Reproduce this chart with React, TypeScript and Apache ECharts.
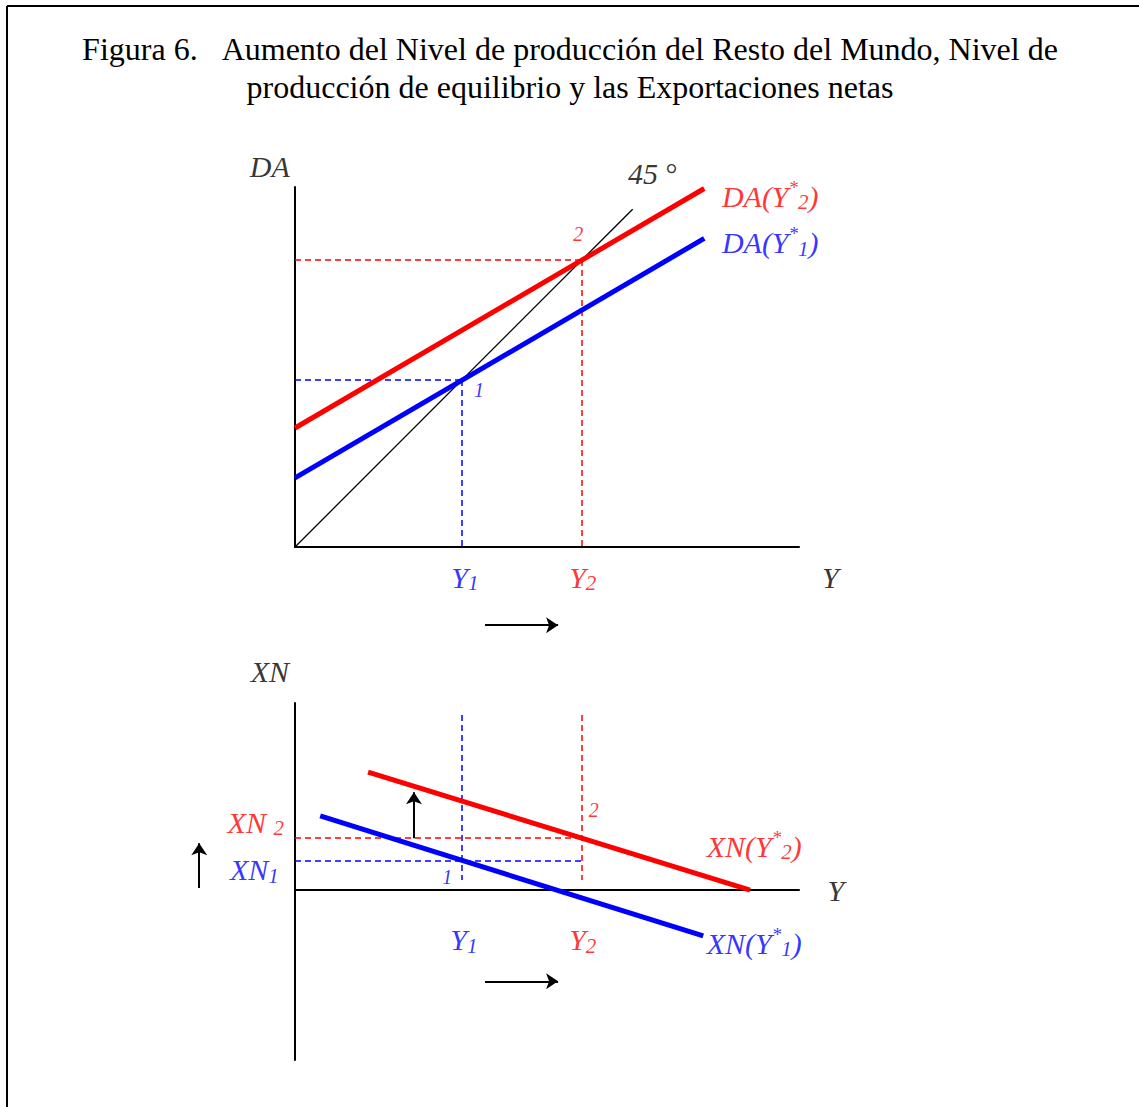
import React, { useEffect, useRef } from "react";
import * as echarts from "echarts";

type Pt = [number, number];

const SERIF = "'Liberation Serif', 'Times New Roman', serif";
const RED = "#ff0000";
const BLUE = "#0000ff";
const BLACK = "#000000";

const TITLE_LINES = [
  "Figura 6.\u00A0\u00A0\u00A0Aumento del Nivel de producción del Resto del Mundo, Nivel de",
  "producción de equilibrio y las Exportaciones netas",
];

// Upper panel: aggregate demand against output
const line45: Pt[] = [[0, 0], [67, 67]];
const da1: Pt[] = [[0, 13.7], [81.2, 61.2]];
const da2: Pt[] = [[0, 23.6], [81.2, 71.1]];
const yEquilibrium: number[] = [33.1, 56.9]; // Y1, Y2 (on the 45° line)

// Lower panel: net exports against output
const xn1: Pt[] = [[5.0, 14.7], [81.0, -9.1]];
const xn2: Pt[] = [[14.5, 23.4], [90.3, 0]];
const xnEquilibrium: number[] = [5.9, 10.3]; // XN1, XN2

// Axis extents
const topX: Pt = [0, 100];
const topY: Pt = [0, 71.4];
const botX: Pt = [0, 100];
const botY: Pt = [-33.7, 37.1];

const RICH: any = {
  sup: { fontSize: 19, padding: [0, 0, 18, 0] },
  sub: { fontSize: 21, padding: [12, 0, 0, 0] },
  sm: { fontSize: 20 },
  up: { fontStyle: "normal" },
};

type Lbl = { x: number; y: number; text: string; color: string; pos: "inside" | "right" | "left" };

const [Y1, Y2] = yEquilibrium;
const [XN1, XN2] = xnEquilibrium;

const topLabels: Lbl[] = [
  { x: -5.0, y: 75.4, text: "DA", color: BLACK, pos: "inside" },
  { x: 71.0, y: 74.0, text: "45\u00A0{up|°}", color: BLACK, pos: "inside" },
  { x: 84.7, y: 69.6, text: "DA(Y{sup|*}{sub|2})", color: RED, pos: "right" },
  { x: 84.7, y: 60.3, text: "DA(Y{sup|*}{sub|1})", color: BLUE, pos: "right" },
  { x: Y2 - 0.7, y: Y2 + 5.2, text: "{sm|2}", color: RED, pos: "inside" },
  { x: Y1 + 3.4, y: Y1 - 1.9, text: "{sm|1}", color: BLUE, pos: "inside" },
  { x: Y1 + 0.6, y: -6.0, text: "Y{sub|1}", color: BLUE, pos: "inside" },
  { x: Y2 + 0.2, y: -6.0, text: "Y{sub|2}", color: RED, pos: "inside" },
  { x: 106.2, y: -6.0, text: "Y", color: BLACK, pos: "inside" },
];

const botLabels: Lbl[] = [
  { x: -5.0, y: 43.3, text: "XN", color: BLACK, pos: "inside" },
  { x: -2.2, y: XN2 + 3.2, text: "XN\u00A0{sub|2}", color: RED, pos: "left" },
  { x: -3.2, y: XN1 - 1.9, text: "XN{sub|1}", color: BLUE, pos: "left" },
  { x: 81.7, y: 8.7, text: "XN(Y{sup|*}{sub|2})", color: RED, pos: "right" },
  { x: 81.7, y: -10.5, text: "XN(Y{sup|*}{sub|1})", color: BLUE, pos: "right" },
  { x: Y1 - 2.9, y: XN1 - 3.3, text: "{sm|1}", color: BLUE, pos: "inside" },
  { x: Y2 + 2.4, y: 15.9, text: "{sm|2}", color: RED, pos: "inside" },
  { x: Y1 + 0.4, y: -9.9, text: "Y{sub|1}", color: BLUE, pos: "inside" },
  { x: Y2 + 0.2, y: -9.9, text: "Y{sub|2}", color: RED, pos: "inside" },
  { x: 107.3, y: 0, text: "Y", color: BLACK, pos: "inside" },
];

const DASH = [6, 4];

function lineSeries(grid: number, data: Pt[], color: string, width: number): any {
  return {
    type: "line",
    xAxisIndex: grid,
    yAxisIndex: grid,
    data,
    symbol: "none",
    silent: true,
    clip: false,
    lineStyle: { color, width, cap: "butt" },
  };
}

function segments(grid: number, segs: Pt[][], color: string, width: number, dashed: boolean, arrow = false): any {
  return {
    type: "lines",
    coordinateSystem: "cartesian2d",
    xAxisIndex: grid,
    yAxisIndex: grid,
    silent: true,
    clip: false,
    symbol: arrow ? ["none", "arrow"] : ["none", "none"],
    symbolSize: arrow ? [9, 12] : 0,
    lineStyle: { color, width, type: dashed ? DASH : "solid", opacity: 1, curveness: 0 },
    data: segs.map((coords) => ({ coords })),
  };
}

function labelSeries(grid: number, labels: Lbl[]): any {
  return {
    type: "scatter",
    xAxisIndex: grid,
    yAxisIndex: grid,
    symbolSize: 0,
    silent: true,
    clip: false,
    z: 10,
    label: {
      show: true,
      fontFamily: SERIF,
      fontStyle: "italic",
      fontSize: 30,
      distance: 0,
      rich: RICH,
      formatter: (p: any) => p.data.text,
    },
    data: labels.map((l) => ({
      value: [l.x, l.y],
      text: l.text,
      label: { color: l.color, position: l.pos },
    })),
  };
}

function axisPair(grid: number, xr: Pt, yr: Pt) {
  const common = {
    type: "value",
    gridIndex: grid,
    axisTick: { show: false },
    axisLabel: { show: false },
    splitLine: { show: false },
    axisLine: { show: true, onZero: true, lineStyle: { color: BLACK, width: 2 } },
  };
  return {
    x: { ...common, min: xr[0], max: xr[1] },
    y: { ...common, min: yr[0], max: yr[1] },
  };
}

export default function App() {
  const ref = useRef<HTMLDivElement>(null);

  useEffect(() => {
    if (!ref.current) return;
    const chart = echarts.init(ref.current, undefined, { renderer: "svg" });
    const top = axisPair(0, topX, topY);
    const bot = axisPair(1, botX, botY);

    chart.setOption({
      animation: false,
      backgroundColor: "#ffffff",
      grid: [
        { left: 295, top: 187, width: 504, height: 360 },
        { left: 295, top: 703, width: 504, height: 357 },
      ],
      xAxis: [top.x, bot.x],
      yAxis: [top.y, bot.y],
      graphic: [
        { type: "line", shape: { x1: 7, y1: 6, x2: 1139, y2: 6 }, style: { stroke: BLACK, lineWidth: 2 } },
        { type: "line", shape: { x1: 7, y1: 6, x2: 7, y2: 1107 }, style: { stroke: BLACK, lineWidth: 2 } },
        {
          type: "text",
          x: 570,
          y: 30,
          style: {
            text: TITLE_LINES.join("\n"),
            fill: BLACK,
            font: `32px ${SERIF}`,
            lineHeight: 38,
            textAlign: "center",
            textVerticalAlign: "top",
          },
        },
      ],
      series: [
        // upper panel guides
        segments(0, [[[0, Y1], [Y1, Y1]], [[Y1, Y1], [Y1, 0]]], BLUE, 1.5, true),
        segments(0, [[[0, Y2], [Y2, Y2]], [[Y2, Y2], [Y2, -0.5]]], RED, 1.5, true),
        lineSeries(0, line45, BLACK, 1.3),
        lineSeries(0, da1, BLUE, 5),
        lineSeries(0, da2, RED, 5),
        segments(0, [[[37.7, -15.5], [52.2, -15.5]]], BLACK, 2, false, true),
        labelSeries(0, topLabels),

        // lower panel guides
        segments(1, [[[Y1, 34.7], [Y1, 2.0]], [[0, XN1], [Y2, XN1]]], BLUE, 1.5, true),
        segments(1, [[[Y2, 34.7], [Y2, 2.0]], [[0, XN2], [Y2, XN2]]], RED, 1.5, true),
        lineSeries(1, xn1, BLUE, 5),
        lineSeries(1, xn2, RED, 5),
        segments(
          1,
          [
            [[37.7, -18.1], [52.2, -18.1]],
            [[23.6, XN2], [23.6, 19.4]],
            [[-19.0, 0.4], [-19.0, 9.3]],
          ],
          BLACK,
          2,
          false,
          true
        ),
        labelSeries(1, botLabels),
      ],
    });

    return () => chart.dispose();
  }, []);

  return (
    <div
      ref={ref}
      style={{ position: "fixed", left: 0, top: 0, width: 1139, height: 1107, background: "#fff" }}
    />
  );
}
